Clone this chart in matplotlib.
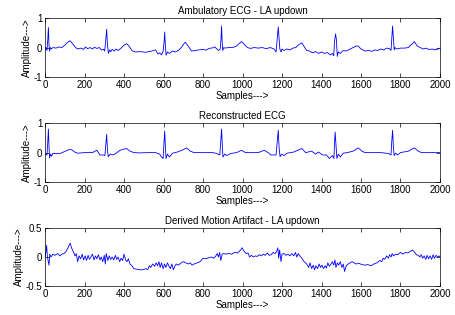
import matplotlib
matplotlib.use("Agg")
import matplotlib.pyplot as plt

plt.rcParams['font.family'] = ['Liberation Sans', 'DejaVu Sans']
plt.rcParams['font.size'] = 7

# Ambulatory ECG - LA updown (sample, amplitude) vertices
amb_x = [0, 5, 10, 14, 17, 20, 23, 27, 32, 40, 55, 70, 85, 100, 115, 127, 140, 155, 165, 180,
         195, 205, 215, 228, 240, 250, 262, 275, 285, 296, 302, 308, 312, 316, 321, 327, 333, 340,
         350, 360, 370, 385, 400, 413, 425, 440, 455, 480, 510, 540, 560, 572, 580, 590, 598, 603,
         606, 609, 613, 620, 630, 645, 660, 675, 690, 700, 710, 725, 742, 760, 780, 800, 815, 830,
         850, 860, 870, 880, 887, 891, 894, 897, 900, 905, 911, 930, 950, 970, 985, 995, 1010, 1025,
         1040, 1060, 1080, 1100, 1120, 1140, 1160, 1170, 1176, 1181, 1185, 1189, 1195, 1200, 1210,
         1225, 1240, 1255, 1270, 1285, 1300, 1315, 1325, 1340, 1355, 1370, 1385, 1400, 1415, 1430,
         1445, 1455, 1462, 1466, 1471, 1475, 1480, 1485, 1495, 1510, 1525, 1545, 1560, 1575, 1586,
         1600, 1620, 1640, 1655, 1670, 1685, 1700, 1715, 1730, 1745, 1752, 1756, 1760, 1764, 1768,
         1772, 1780, 1800, 1820, 1840, 1855, 1870, 1885, 1900, 1915, 1930, 1945, 1960, 1975, 1990, 2000]
amb_y = [-0.05, 0.0, -0.1, 0.3, 0.68, 0.1, -0.12, 0.0, -0.05, 0.0, -0.02, 0.02, 0.0, 0.08, 0.18, 0.23,
         0.12, 0.0, -0.05, -0.02, -0.06, 0.02, -0.04, 0.0, -0.05, 0.01, -0.03, 0.0, -0.08, -0.06, -0.12,
         0.3, 0.62, 0.1, -0.2, -0.08, -0.14, -0.06, -0.12, -0.05, -0.1, -0.02, 0.08, 0.13, 0.05, -0.1,
         -0.15, -0.14, -0.16, -0.12, -0.08, -0.22, -0.18, -0.25, -0.12, 0.2, 0.53, 0.1, -0.26, -0.15,
         -0.2, -0.12, -0.15, -0.1, 0.0, 0.1, 0.18, 0.05, -0.12, -0.1, -0.08, -0.06, -0.09, -0.03, -0.01,
         0.02, -0.05, -0.1, -0.05, 0.3, 0.73, 0.2, -0.1, 0.0, -0.02, 0.0, 0.0, 0.05, 0.15, 0.2, 0.1, 0.0,
         -0.03, 0.0, -0.02, 0.0, -0.04, 0.0, -0.05, -0.15, 0.3, 0.7, 0.3, -0.05, -0.15, -0.05, -0.1,
         -0.05, -0.08, -0.02, 0.0, 0.1, 0.16, 0.0, -0.1, -0.12, -0.18, -0.14, -0.2, -0.15, -0.2, -0.17,
         -0.25, -0.2, -0.28, 0.2, 0.46, 0.3, -0.3, -0.15, -0.2, -0.1, -0.12, -0.05, 0.0, 0.05, 0.05,
         -0.05, -0.12, -0.1, -0.13, -0.08, -0.1, -0.05, -0.08, -0.02, -0.04, -0.1, 0.3, 0.73, 0.3, -0.08,
         0.0, -0.05, -0.02, -0.02, 0.0, 0.1, 0.2, 0.05, 0.0, -0.05, -0.02, -0.07, -0.05, -0.08, -0.05, -0.02]

# Reconstructed ECG
rec_x = [0, 10, 14, 17, 20, 23, 28, 33, 40, 60, 80, 100, 120, 135, 150, 165, 200, 240, 262, 278,
         295, 303, 308, 312, 316, 320, 330, 345, 360, 380, 413, 430, 450, 480, 520, 560, 580, 590,
         598, 602, 606, 610, 613, 620, 630, 645, 670, 700, 717, 735, 755, 800, 850, 870, 885, 890,
         894, 898, 901, 910, 920, 940, 970, 995, 1015, 1050, 1080, 1110, 1130, 1143, 1170, 1176,
         1181, 1185, 1190, 1198, 1210, 1225, 1260, 1300, 1320, 1350, 1370, 1385, 1405, 1425, 1440,
         1455, 1463, 1466, 1469, 1473, 1478, 1485, 1495, 1510, 1530, 1560, 1586, 1605, 1620, 1700,
         1740, 1752, 1756, 1760, 1764, 1768, 1775, 1785, 1800, 1840, 1870, 1890, 1907, 1950, 2000]
rec_y = [-0.05, -0.08, 0.4, 0.8, 0.2, -0.18, -0.05, -0.12, -0.02, -0.04, -0.02, 0.04, 0.1, 0.1,
         0.02, -0.02, 0.0, 0.0, 0.08, -0.08, -0.08, -0.1, 0.3, 0.62, 0.1, -0.14, -0.05, -0.08, -0.02,
         0.08, 0.14, 0.05, 0.0, -0.01, 0.0, 0.0, -0.05, -0.15, -0.2, 0.3, 0.73, 0.1, -0.2, -0.05,
         -0.15, -0.02, 0.02, 0.1, 0.16, 0.05, 0.0, 0.0, 0.0, -0.03, -0.08, 0.4, 0.8, 0.2, -0.15,
         -0.05, -0.1, -0.03, 0.0, 0.08, 0.0, 0.0, 0.0, 0.08, 0.0, -0.08, -0.08, 0.4, 0.76, 0.2,
         -0.14, -0.05, -0.1, -0.02, 0.02, 0.14, 0.0, 0.05, -0.05, 0.02, -0.08, -0.08, -0.2, -0.1,
         -0.2, 0.3, 0.7, 0.3, -0.2, -0.05, -0.15, -0.02, 0.0, 0.05, 0.16, 0.05, 0.0, 0.0, -0.03,
         -0.08, 0.4, 0.76, 0.2, -0.1, -0.02, -0.08, 0.0, 0.05, 0.16, 0.05, 0.0, 0.0, 0.0]

# Derived Motion Artifact - LA updown
art_x = [0, 4, 8, 12, 15, 20, 24, 30, 40, 50, 64, 75, 85, 95, 105, 115, 127, 135, 145, 152, 158,
         165, 172, 180, 188, 195, 203, 210, 218, 225, 232, 240, 248, 255, 262, 270, 278, 285, 292,
         300, 305, 310, 318, 325, 332, 340, 348, 356, 363, 370, 378, 385, 393, 400, 408, 415, 422,
         430, 440, 450, 465, 480, 495, 510, 520, 528, 535, 545, 555, 562, 570, 577, 583, 590, 598,
         605, 612, 620, 628, 635, 642, 650, 658, 665, 675, 690, 700, 712, 725, 735, 745, 755, 770,
         785, 800, 815, 830, 845, 855, 865, 872, 878, 884, 890, 897, 905, 915, 930, 945, 960, 975,
         990, 998, 1008, 1018, 1028, 1036, 1045, 1055, 1065, 1075, 1085, 1095, 1105, 1115, 1125,
         1135, 1145, 1155, 1165, 1173, 1179, 1183, 1188, 1195, 1200, 1210, 1220, 1230, 1240, 1250,
         1260, 1268, 1275, 1282, 1290, 1300, 1312, 1325, 1335, 1342, 1350, 1358, 1365, 1372, 1380,
         1388, 1395, 1402, 1410, 1418, 1425, 1432, 1440, 1448, 1455, 1462, 1468, 1473, 1480, 1487,
         1495, 1503, 1510, 1517, 1525, 1535, 1545, 1555, 1565, 1575, 1590, 1605, 1620, 1635, 1650,
         1665, 1680, 1695, 1705, 1712, 1720, 1730, 1738, 1745, 1752, 1758, 1765, 1775, 1785, 1800,
         1812, 1825, 1838, 1850, 1862, 1872, 1880, 1890, 1898, 1905, 1912, 1920, 1928, 1935, 1942,
         1950, 1958, 1965, 1972, 1980, 1988, 1995, 2000]
art_y = [0.0, 0.08, 0.2, 0.0, -0.05, -0.14, 0.05, 0.0, 0.05, 0.03, 0.06, 0.02, 0.05, 0.06, 0.09,
         0.15, 0.24, 0.15, 0.08, 0.02, 0.06, -0.08, 0.02, -0.03, 0.05, -0.05, 0.02, -0.06, 0.03,
         -0.04, 0.0, 0.05, -0.05, 0.02, -0.03, 0.04, -0.05, 0.0, -0.08, 0.03, -0.12, 0.06, -0.06,
         0.02, -0.04, 0.0, -0.05, 0.03, -0.04, 0.0, -0.08, -0.02, -0.06, 0.05, -0.05, -0.08, -0.03,
         -0.12, -0.15, -0.2, -0.21, -0.22, -0.22, -0.2, -0.22, -0.15, -0.18, -0.12, -0.16, -0.1,
         -0.15, -0.08, -0.18, -0.1, -0.2, -0.12, -0.18, -0.1, -0.16, -0.2, -0.12, -0.22, -0.15,
         -0.12, -0.14, -0.1, -0.08, -0.1, -0.12, -0.1, -0.14, -0.12, -0.1, -0.08, -0.02, -0.03,
         -0.01, 0.0, -0.02, 0.02, 0.06, 0.0, 0.08, -0.06, 0.05, 0.06, 0.05, 0.06, 0.05, 0.08, 0.07,
         0.12, 0.16, 0.1, 0.06, 0.07, 0.0, 0.03, 0.0, 0.02, 0.01, 0.04, 0.02, 0.05, 0.03, 0.07, 0.03,
         0.04, 0.08, 0.06, 0.1, 0.16, -0.02, 0.12, -0.08, 0.05, 0.06, 0.03, 0.05, 0.02, 0.06, 0.02,
         0.08, 0.0, 0.06, 0.02, -0.02, -0.08, -0.12, -0.18, -0.1, -0.2, -0.14, -0.22, -0.15, -0.2,
         -0.12, -0.18, -0.14, -0.2, -0.15, -0.19, -0.1, -0.16, -0.12, -0.08, -0.14, -0.05, -0.18,
         -0.1, -0.14, -0.08, -0.18, -0.12, -0.25, -0.15, -0.12, -0.1, -0.08, -0.1, -0.12, -0.11,
         -0.13, -0.14, -0.13, -0.15, -0.12, -0.1, -0.06, -0.08, -0.02, -0.04, 0.02, -0.02, 0.04,
         0.0, 0.06, 0.02, 0.05, 0.04, 0.08, 0.05, 0.08, 0.07, 0.1, 0.12, 0.08, 0.04, 0.03, 0.0,
         0.04, -0.02, 0.02, -0.04, 0.03, -0.03, 0.02, -0.04, 0.04, -0.02, 0.03, 0.0, 0.02, 0.0]

titles = ["Ambulatory ECG - LA updown", "Reconstructed ECG", "Derived Motion Artifact - LA updown"]
ylims = [(-1, 1), (-1, 1), (-0.5, 0.5)]
yticks = [[-1, 0, 1], [-1, 0, 1], [-0.5, 0, 0.5]]
xticks = list(range(0, 2001, 200))

fig = plt.figure(figsize=(4.55, 3.15), dpi=100)
rects = [[0.099, 0.7556, 0.868, 0.187],
         [0.099, 0.422, 0.868, 0.187],
         [0.099, 0.092, 0.868, 0.184]]
series = [(amb_x, amb_y), (rec_x, rec_y), (art_x, art_y)]

for i in range(3):
    ax = fig.add_axes(rects[i])
    ax.plot(series[i][0], series[i][1], color='blue', lw=0.6)
    ax.set_xlim(0, 2000)
    ax.set_ylim(*ylims[i])
    ax.set_xticks(xticks)
    ax.set_yticks(yticks[i])
    ax.set_yticklabels([f"{v:g}" for v in yticks[i]])
    ax.tick_params(direction='in', top=True, right=True, length=3, width=0.5, pad=2, labelsize=7)
    for s in ax.spines.values():
        s.set_linewidth(0.5)
    ax.set_title(titles[i], fontsize=7, pad=3)
    ax.set_xlabel("Samples--->", fontsize=7, labelpad=1)
    ax.set_ylabel("Amplitude--->", fontsize=7, labelpad=1)

fig.savefig("out.png", dpi=100)
